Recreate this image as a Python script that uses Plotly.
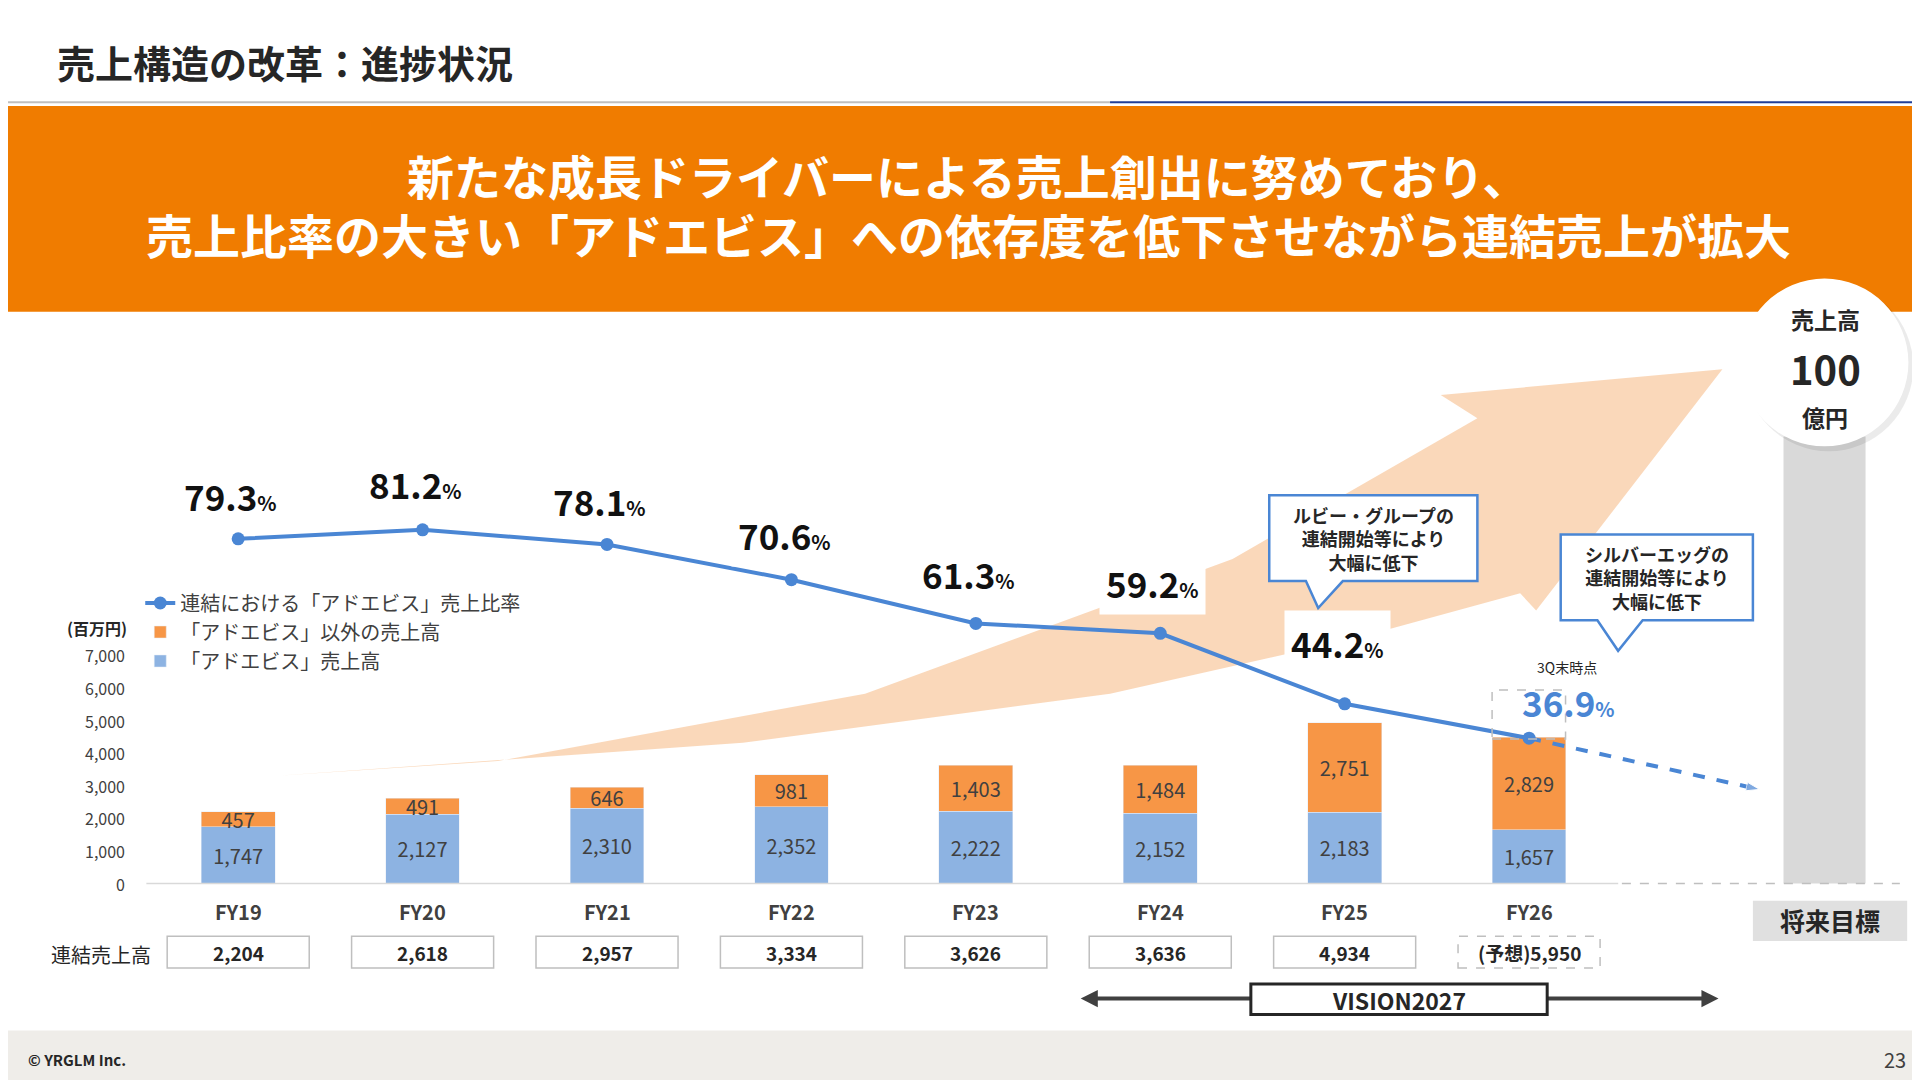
import plotly.graph_objects as go

years = ["FY19", "FY20", "FY21", "FY22", "FY23", "FY24", "FY25", "FY26"]
adebis_sales = [1747, 2127, 2310, 2352, 2222, 2152, 2183, 1657]
other_sales = [457, 491, 646, 981, 1403, 1484, 2751, 2829]
adebis_ratio = [79.3, 81.2, 78.1, 70.6, 61.3, 59.2, 44.2, 36.9]
total_sales = ["2,204", "2,618", "2,957", "3,334", "3,626", "3,636", "4,934", "(予想)5,950"]
yticks = [0, 1000, 2000, 3000, 4000, 5000, 6000, 7000]

FONT = "Noto Sans CJK JP"
W, H = 1568, 882  # reference pixel grid


def px(x):
    return x / W


def py(y):
    return 1 - y / H


def path(pts):
    return "M " + " L ".join(f"{px(x):.4f},{py(y):.4f}" for x, y in pts) + " Z"


xs = list(range(len(years)))
fig = go.Figure()

fig.add_trace(go.Bar(x=xs, y=adebis_sales, name="「アドエビス」売上高", marker_color="#8db3e2",
                     width=0.4, text=[f"{v:,}" for v in adebis_sales], textposition="inside",
                     insidetextanchor="middle", textfont=dict(size=20, color="#404040"),
                     legendrank=3, yaxis="y"))
fig.add_trace(go.Bar(x=xs, y=other_sales, name="「アドエビス」以外の売上高", marker_color="#f79646",
                     width=0.4, text=[f"{v:,}" for v in other_sales], textposition="inside",
                     insidetextanchor="middle", textfont=dict(size=20, color="#404040"),
                     legendrank=2, yaxis="y"))
fig.add_trace(go.Scatter(x=xs, y=adebis_ratio, name="連結における「アドエビス」売上比率",
                         mode="lines+markers", line=dict(color="#4a86d4", width=4),
                         marker=dict(size=13, color="#4a86d4"), legendrank=1, yaxis="y2"))
fig.add_trace(go.Scatter(x=[7, 8.25], y=[adebis_ratio[-1], 26], mode="lines+markers",
                         line=dict(color="#4a86d4", width=4, dash="dash"),
                         marker=dict(symbol="arrow", size=[0, 14], angleref="previous", color="#4a86d4"),
                         showlegend=False, yaxis="y2"))

shapes = []
# header
shapes.append(dict(type="rect", xref="paper", yref="paper", x0=0, x1=1, y0=py(248), y1=py(80),
                   fillcolor="#f07c00", line_width=0, layer="below"))
shapes.append(dict(type="line", xref="paper", yref="paper", x0=0, x1=px(900), y0=py(77), y1=py(77),
                   line=dict(color="#bfbfbf", width=2)))
shapes.append(dict(type="line", xref="paper", yref="paper", x0=px(900), x1=1, y0=py(77), y1=py(77),
                   line=dict(color="#1f3f99", width=2)))
# footer
shapes.append(dict(type="rect", xref="paper", yref="paper", x0=0, x1=1, y0=0, y1=py(835),
                   fillcolor="#efede9", line_width=0, layer="below"))
# growth arrow
shapes.append(dict(type="path", xref="paper", yref="paper", layer="below",
                   path=path([(220, 627), (600, 600), (900, 560), (1100, 515), (1235, 478), (1248, 492),
                              (1400, 295), (1170, 316), (1200, 335), (1000, 450), (700, 560), (400, 615)]),
                   fillcolor="rgba(247,190,140,0.6)", line_width=0))
# target bar
shapes.append(dict(type="rect", xref="paper", yref="paper", x0=px(1450), x1=px(1517), y0=py(715), y1=py(350),
                   fillcolor="#d9d9d9", line_width=0, layer="below"))
shapes.append(dict(type="circle", xref="paper", yref="paper", x0=px(1418), x1=px(1556), y0=py(362), y1=py(224),
                   fillcolor="rgba(0,0,0,0.08)", line_width=0))
shapes.append(dict(type="circle", xref="paper", yref="paper", x0=px(1415), x1=px(1552), y0=py(358), y1=py(221),
                   fillcolor="white", line_width=0))
shapes.append(dict(type="rect", xref="paper", yref="paper", x0=px(1425), x1=px(1551), y0=py(762), y1=py(729),
                   fillcolor="#e0e0e0", line_width=0))
# baseline
shapes.append(dict(type="line", xref="paper", yref="paper", x0=px(113), x1=px(1315), y0=py(715), y1=py(715),
                   line=dict(color="#d9d9d9", width=1.5)))
shapes.append(dict(type="line", xref="paper", yref="paper", x0=px(1318), x1=px(1545), y0=py(715), y1=py(715),
                   line=dict(color="#bfbfbf", width=1.5, dash="dash")))
# callouts
shapes.append(dict(type="path", xref="paper", yref="paper",
                   path=path([(1030, 398), (1200, 398), (1200, 468), (1090, 468), (1070, 490), (1060, 468), (1030, 468)]),
                   fillcolor="white", line=dict(color="#4a86d4", width=2.5)))
shapes.append(dict(type="path", xref="paper", yref="paper",
                   path=path([(1268, 430), (1425, 430), (1425, 500), (1335, 500), (1315, 525), (1298, 500), (1268, 500)]),
                   fillcolor="white", line=dict(color="#4a86d4", width=2.5)))
shapes.append(dict(type="rect", xref="paper", yref="paper", x0=px(1212), x1=px(1272), y0=py(597), y1=py(557),
                   line=dict(color="#bfbfbf", width=1.5, dash="dash")))
# sales boxes
xc = lambda i: 188 + 150.6 * i
for i in range(len(years)):
    shapes.append(dict(type="rect", xref="paper", yref="paper", x0=px(xc(i) - 58), x1=px(xc(i) + 58),
                       y0=py(784), y1=py(758), fillcolor="white",
                       line=dict(color="#bfbfbf", width=1.5, dash="dash" if i == 7 else "solid")))
# vision arrow
shapes.append(dict(type="line", xref="paper", yref="paper", x0=px(885), x1=px(1388), y0=py(809), y1=py(809),
                   line=dict(color="#404040", width=4)))
shapes.append(dict(type="path", xref="paper", yref="paper", path=path([(876, 809), (890, 802), (890, 816)]),
                   fillcolor="#404040", line_width=0))
shapes.append(dict(type="path", xref="paper", yref="paper", path=path([(1397, 809), (1383, 802), (1383, 816)]),
                   fillcolor="#404040", line_width=0))
shapes.append(dict(type="rect", xref="paper", yref="paper", x0=px(1015), x1=px(1257), y0=py(822), y1=py(797),
                   fillcolor="white", line=dict(color="#262626", width=3)))

ann = []


def text(x, y, t, size, color="#262626", bold=False, xanchor="center", **kw):
    ann.append(dict(xref="paper", yref="paper", x=px(x), y=py(y), text=f"<b>{t}</b>" if bold else t,
                    showarrow=False, xanchor=xanchor, yanchor="middle",
                    font=dict(size=size, color=color, family=FONT), **kw))


text(38, 44, "売上構造の改革：進捗状況", 38, bold=True, xanchor="left")
text(784, 136, "新たな成長ドライバーによる売上創出に努めており、", 47, color="white", bold=True)
text(784, 184, "売上比率の大きい「アドエビス」への依存度を低下させながら連結売上が拡大", 47, color="white", bold=True)
text(1484, 254, "売上高", 23, bold=True)
text(1484, 294, "100", 40, bold=True)
text(1484, 334, "億円", 23, bold=True)
text(1488, 745, "将来目標", 25, bold=True)
text(1115, 433, "ルビー・グループの<br>連結開始等により<br>大幅に低下", 18, bold=True)
text(1347, 465, "シルバーエッグの<br>連結開始等により<br>大幅に低下", 18, bold=True)
text(73, 506, "(百万円)", 16, bold=True)
text(76, 773, "連結売上高", 20)
text(1136, 810, "VISION2027", 23, bold=True)
text(15, 859, "© YRGLM Inc.", 15, bold=True, xanchor="left")
text(1552, 859, "23", 20, color="#404040", xanchor="right")
text(1273, 538, "3Q末時点", 14)
for i, yr in enumerate(years):
    text(xc(i), 738, yr, 20, color="#404040", bold=True)
    text(xc(i), 771, total_sales[i], 19, bold=True)
bubble_y = [398, 388, 402, 430, 462, 469, 518, 566]
for i, v in enumerate(adebis_ratio):
    col = "#4a86d4" if i == 7 else "#111111"
    ann.append(dict(xref="paper", yref="paper", x=px(xc(i) - 6 if i < 7 else xc(i) + 32), y=py(bubble_y[i]),
                    showarrow=False, xanchor="center", yanchor="middle",
                    text=f"<b>{v}</b><span style='font-size:20px'><b>%</b></span>",
                    font=dict(size=35, color=col, family=FONT),
                    bgcolor="white" if i != 7 else "rgba(255,255,255,0)",
                    borderpad=6 if i != 7 else 0))
for v in yticks:
    text(97, 715 - v * 0.02661, f"{v:,}", 16, color="#404040", xanchor="right")

fig.update_layout(
    width=1920, height=1080, margin=dict(l=0, r=0, t=0, b=0),
    plot_bgcolor="rgba(0,0,0,0)", paper_bgcolor="white", barmode="stack",
    font=dict(family=FONT),
    uniformtext=dict(minsize=20, mode="show"),
    xaxis=dict(range=[-1.248, 9.163], domain=[0, 1], visible=False),
    yaxis=dict(range=[-865, 13571], domain=[1 - 738 / H, 1 - 354 / H], visible=False),
    yaxis2=dict(range=[0, 100], domain=[1 - 738 / H, 1 - 354 / H], overlaying="y", visible=False),
    legend=dict(x=px(108), y=py(470), xanchor="left", yanchor="top", bgcolor="rgba(0,0,0,0)",
                traceorder="normal",
                font=dict(size=20, color="#404040", family=FONT), tracegroupgap=0, itemwidth=30),
    shapes=shapes, annotations=ann, showlegend=True,
)
fig.write_html("out.html")
